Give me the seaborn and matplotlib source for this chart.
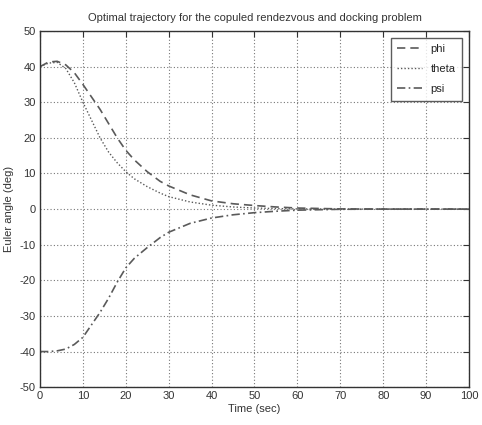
import pandas as pd
import matplotlib
matplotlib.use("Agg")
import matplotlib.pyplot as plt
import seaborn as sns

# Euler angle trajectories
time_sec = [0, 2, 4, 6, 8, 10, 12, 14, 16, 18, 20, 22, 25, 28, 30, 35, 40, 45, 50, 55, 60, 70, 80, 90, 100]
phi = [40, 41.3, 41.5, 40.5, 38.3, 35, 31.5, 28, 24, 20, 16.5, 13.8, 10.5, 7.8, 6.5, 4, 2.3, 1.5, 1, 0.6, 0.3, 0.05, 0, 0, 0]
theta = [40, 41, 41.2, 39.5, 35.5, 30, 25, 20, 16, 13, 10.5, 8.5, 6.3, 4.5, 3.5, 2, 1.1, 0.6, 0.3, 0.15, 0.05, 0, 0, 0, 0]
psi = [-40, -40, -39.8, -39.3, -38, -36, -32.5, -29, -25, -20.5, -16.5, -13.8, -10.8, -8, -6.5, -4, -2.5, -1.6, -1, -0.6, -0.3, -0.05, 0, 0, 0]

x_ticks = [0, 10, 20, 30, 40, 50, 60, 70, 80, 90, 100]
y_ticks = [-50, -40, -30, -20, -10, 0, 10, 20, 30, 40, 50]

sns.set_style("white")
plt.rcParams['font.family'] = ['Liberation Sans', 'DejaVu Sans']
plt.rcParams['axes.unicode_minus'] = False

df = pd.DataFrame({'Time': time_sec, 'phi': phi, 'theta': theta, 'psi': psi})

fig = plt.figure(figsize=(4.82, 4.25), dpi=100)
ax = fig.add_axes([0.083, 0.089, 0.890, 0.838])

col = '#5a5a5a'
sns.lineplot(data=df, x='Time', y='phi', ax=ax, color=col, linestyle=(0, (5, 3)), lw=1.2, label='phi')
sns.lineplot(data=df, x='Time', y='theta', ax=ax, color=col, linestyle=(0, (1, 1.5)), lw=1.0, label='theta')
sns.lineplot(data=df, x='Time', y='psi', ax=ax, color=col, linestyle=(0, (5, 2, 1, 2)), lw=1.2, label='psi')

ax.set_xlim(0, 100)
ax.set_ylim(-50, 50)
ax.set_xticks(x_ticks)
ax.set_yticks(y_ticks)
ax.grid(True, linestyle=(0, (1, 2)), color='#777777', lw=0.8)
ax.tick_params(direction='in', length=4, labelsize=8, colors='#333333', top=True, right=True, pad=3)
for s in ax.spines.values():
    s.set_color('#333333')
    s.set_linewidth(1.0)

ax.set_xlabel('Time (sec)', fontsize=8, color='#333333', labelpad=2)
ax.set_ylabel('Euler angle (deg)', fontsize=8, color='#333333', labelpad=4)
ax.set_title('Optimal trajectory for the copuled rendezvous and docking problem', fontsize=8, color='#333333', pad=7)

leg = ax.legend(loc='upper right', fontsize=8, frameon=True, fancybox=False, handlelength=2.2,
                borderaxespad=0.6, labelspacing=0.9, borderpad=0.6)
leg.get_frame().set_edgecolor('#333333')
leg.get_frame().set_linewidth(1.0)

fig.savefig('out.png', dpi=100)
